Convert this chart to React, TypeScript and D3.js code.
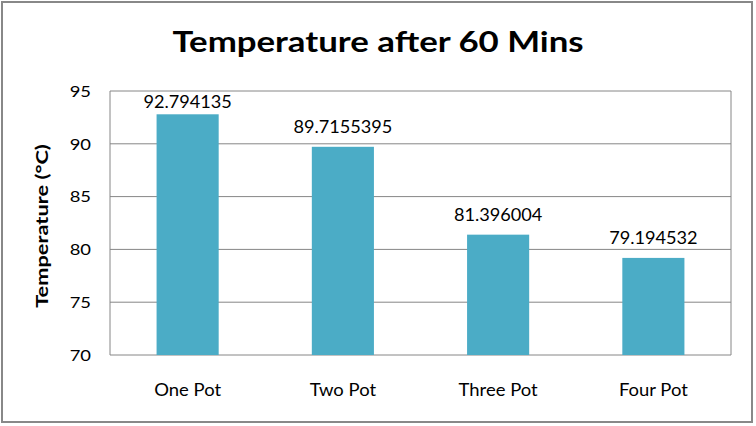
import React from "react";
import * as d3 from "d3";

const categories = ["One Pot", "Two Pot", "Three Pot", "Four Pot"];
const values = [92.794135, 89.7155395, 81.396004, 79.194532];
const valueLabels = ["92.794135", "89.7155395", "81.396004", "79.194532"];
const yTicks = [70, 75, 80, 85, 90, 95];

const W = 756;
const H = 426;
const plot = { left: 110, right: 731, top: 91, bottom: 355 };
const FONT = "Lato, 'Open Sans', sans-serif";

export default function App() {
  const x = d3
    .scaleBand<string>()
    .domain(categories)
    .range([plot.left, plot.right])
    .paddingInner(0.6)
    .paddingOuter(0.3);
  const y = d3.scaleLinear().domain([70, 95]).range([plot.bottom, plot.top]);

  return (
    <svg
      width={W}
      height={H}
      style={{ position: "absolute", left: 0, top: 0 }}
      fontFamily={FONT}
    >
      <rect x={0} y={0} width={W} height={H} fill="#fff" />
      <rect x={2} y={2} width={750} height={420} fill="#fff" stroke="#888" strokeWidth={2} />
      <text
        transform="translate(378,52) scale(1.2,1)"
        textAnchor="middle"
        fontSize={29}
        fontWeight="bold"
        fill="#000"
      >
        Temperature after 60 Mins
      </text>
      {yTicks.map((t) => (
        <g key={t}>
          <line x1={plot.left} x2={plot.right} y1={y(t)} y2={y(t)} stroke="#868686" strokeWidth={1} />
          <text
            transform={`translate(91,${y(t)}) scale(1.15,1)`}
            dy="0.36em"
            textAnchor="end"
            fontSize={16}
            fill="#000"
          >
            {t}
          </text>
        </g>
      ))}
      <line x1={plot.left} x2={plot.left} y1={plot.top} y2={plot.bottom} stroke="#868686" />
      <line x1={plot.right} x2={plot.right} y1={plot.top} y2={plot.bottom} stroke="#868686" />
      {categories.map((c, i) => {
        const cx = (x(c) as number) + x.bandwidth() / 2;
        const ly = Math.max(y(values[i]) - 14, plot.top + 17);
        return (
          <g key={c}>
            <rect
              x={x(c)}
              y={y(values[i])}
              width={x.bandwidth()}
              height={plot.bottom - y(values[i])}
              fill="#4BACC6"
            />
            <text
              transform={`translate(${cx},${ly}) scale(1.1,1)`}
              textAnchor="middle"
              fontSize={16.5}
              fill="#000"
            >
              {valueLabels[i]}
            </text>
            <text
              transform={`translate(${cx},396) scale(1.12,1)`}
              textAnchor="middle"
              fontSize={16.5}
              fill="#000"
            >
              {c}
            </text>
          </g>
        );
      })}
      <text
        transform="translate(48, 226) rotate(-90) scale(1.32,1)"
        textAnchor="middle"
        fontSize={16.5}
        fontWeight="bold"
        fill="#000"
      >
        Temperature (°C)
      </text>
    </svg>
  );
}
